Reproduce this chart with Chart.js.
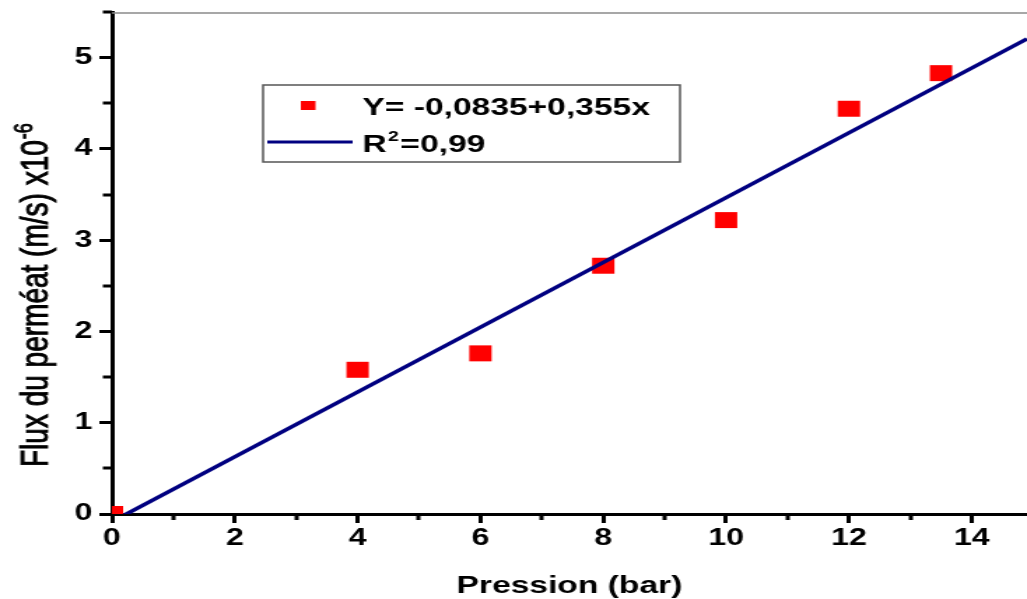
<!DOCTYPE html>
<html>
<head>
<meta charset="utf-8">
<script src="https://cdn.jsdelivr.net/npm/chart.js@4.4.1/dist/chart.umd.min.js"></script>
<style>
  html, body { margin: 0; padding: 0; background: #fff; overflow: hidden; }
  #wrap {
    position: absolute; left: 0; top: 0;
    width: 734px; height: 599px;
    transform-origin: 0 0;
    transform: scaleX(1.39918);
  }
</style>
</head>
<body>
<div id="wrap"><canvas id="c"></canvas></div>
<script>
// Measured permeate flux vs. transmembrane pressure
const pressure = [0, 4, 6, 8, 10, 12, 13.5];
const flux     = [0.0, 1.58, 1.76, 2.72, 3.22, 4.44, 4.83];

// Linear fit Y = a + b·x and its coefficient of determination
const fitIntercept = -0.0835;
const fitSlope = 0.355;
const fitR2 = '0,99';
const fitX = [0, 14.9];

// Axes
const xRange = [0, 14.9];
const yRange = [0, 5.5];
const xMinor = [1, 3, 5, 7, 9, 11, 13];
const yMinor = [0.5, 1.5, 2.5, 3.5, 4.5, 5.5];
const xTitle = 'Pression (bar)';
const yTitle = 'Flux du perméat (m/s) x10';
const yTitleExp = '-6';

const FONT = '"Liberation Sans", Arial, Helvetica, sans-serif';
const fmt = v => String(v).replace('.', ',');
const fitLabel = 'Y= ' + fmt(fitIntercept) + '+' + fmt(fitSlope) + 'x';

const decor = {
  id: 'decor',
  beforeDatasetsDraw(chart) {
    const { ctx, chartArea: a } = chart;
    ctx.save();
    ctx.strokeStyle = '#8a8a8a';
    ctx.lineWidth = 1.5;
    ctx.beginPath();
    ctx.moveTo(a.left, a.top + 1);
    ctx.lineTo(a.right, a.top + 1);
    ctx.stroke();
    ctx.restore();
  },
  afterDraw(chart) {
    const { ctx, chartArea: a, scales } = chart;
    ctx.save();
    // minor ticks
    ctx.strokeStyle = '#000';
    ctx.lineWidth = 3;
    ctx.beginPath();
    xMinor.forEach(v => {
      const px = Math.round(scales.x.getPixelForValue(v));
      ctx.moveTo(px, a.bottom);
      ctx.lineTo(px, a.bottom + 6);
    });
    yMinor.forEach(v => {
      const py = Math.round(scales.y.getPixelForValue(v));
      ctx.moveTo(a.left, py);
      ctx.lineTo(a.left - 6.5, py);
    });
    ctx.stroke();

    // vertical axis title with exponent
    ctx.save();
    ctx.translate(33.5, 467);
    ctx.rotate(-Math.PI / 2);
    ctx.fillStyle = '#000';
    ctx.strokeStyle = '#000';
    ctx.lineWidth = 0.8;
    ctx.textAlign = 'left';
    ctx.textBaseline = 'alphabetic';
    ctx.font = '28px ' + FONT;
    ctx.fillText(yTitle, 0, 0);
    ctx.strokeText(yTitle, 0, 0);
    const w = ctx.measureText(yTitle).width;
    ctx.font = '18px ' + FONT;
    ctx.fillText(yTitleExp, w + 1, -11);
    ctx.strokeText(yTitleExp, w + 1, -11);
    ctx.restore();

    // legend box
    const bx = 188, by = 85, bw = 298, bh = 77;
    ctx.fillStyle = '#fff';
    ctx.fillRect(bx, by, bw, bh);
    ctx.strokeStyle = '#555';
    ctx.lineWidth = 1.5;
    ctx.strokeRect(bx, by, bw, bh);

    ctx.fillStyle = '#ff0000';
    ctx.fillRect(215, 101, 10.5, 9);

    ctx.strokeStyle = '#000080';
    ctx.lineWidth = 3;
    ctx.beginPath();
    ctx.moveTo(191, 142);
    ctx.lineTo(252, 142);
    ctx.stroke();

    ctx.fillStyle = '#000';
    ctx.textAlign = 'left';
    ctx.textBaseline = 'alphabetic';
    ctx.font = 'bold 24px ' + FONT;
    ctx.fillText(fitLabel, 259, 115);
    ctx.fillText('R', 259, 152);
    let x = 259 + ctx.measureText('R').width + 1;
    ctx.font = 'bold 14px ' + FONT;
    ctx.fillText('2', x, 141);
    x += ctx.measureText('2').width + 1;
    ctx.font = 'bold 24px ' + FONT;
    ctx.fillText('=' + fitR2, x, 152);
    ctx.restore();
  }
};

const tickFont = { family: FONT, size: 23, weight: 'bold' };

new Chart(document.getElementById('c'), {
  type: 'scatter',
  data: {
    datasets: [
      {
        label: fitLabel,
        data: pressure.map((p, i) => ({ x: p, y: flux[i] })),
        pointStyle: 'rect',
        pointRadius: 11.3,
        pointBackgroundColor: '#ff0000',
        pointBorderWidth: 0,
        showLine: false,
        clip: 0,
        order: 1
      },
      {
        label: 'R²=' + fitR2,
        data: fitX.map(x => ({ x: x, y: fitIntercept + fitSlope * x })),
        showLine: true,
        borderColor: '#000080',
        borderWidth: 3.5,
        pointRadius: 0,
        clip: 0,
        order: 0
      }
    ]
  },
  options: {
    responsive: true,
    maintainAspectRatio: false,
    animation: false,
    events: [],
    layout: { autoPadding: false, padding: { top: 12, right: 0, bottom: 0, left: 0 } },
    plugins: { legend: { display: false }, tooltip: { enabled: false } },
    scales: {
      x: {
        type: 'linear',
        position: 'bottom',
        min: xRange[0],
        max: xRange[1],
        ticks: { stepSize: 2, includeBounds: false, autoSkip: false, maxRotation: 0,
                 color: '#000', font: tickFont, padding: 2 },
        grid: { drawOnChartArea: false, drawTicks: true, tickLength: 9, tickWidth: 3, tickColor: '#000' },
        border: { display: true, color: '#000', width: 3 },
        title: { display: true, text: xTitle, color: '#000',
                 font: { family: FONT, size: 24, weight: 'bold', lineHeight: 1 }, padding: { top: 0, bottom: 1 } },
        afterFit(s) { s.height = 85; s.paddingLeft = 0; s.paddingRight = 0; }
      },
      y: {
        type: 'linear',
        position: 'left',
        min: yRange[0],
        max: yRange[1],
        ticks: { stepSize: 1, includeBounds: false, color: '#000', font: tickFont, padding: 5 },
        grid: { drawOnChartArea: false, drawTicks: true, tickLength: 9, tickWidth: 3, tickColor: '#000' },
        border: { display: true, color: '#000', width: 3 },
        title: { display: false },
        afterFit(s) { s.width = 80; s.paddingTop = 0; s.paddingBottom = 0; }
      }
    }
  },
  plugins: [decor]
});
</script>
</body>
</html>
